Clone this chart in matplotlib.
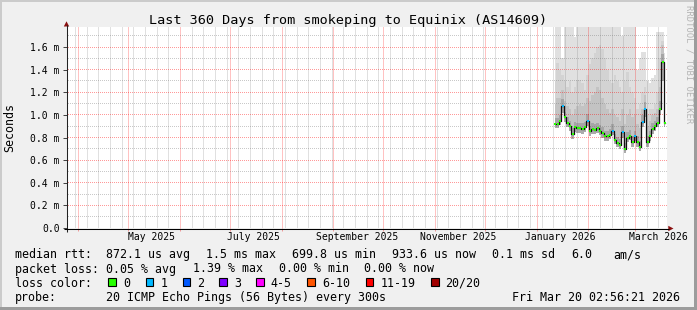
import matplotlib
matplotlib.use('Agg')
import matplotlib.pyplot as plt
import matplotlib.dates as mdates
from matplotlib.patches import Rectangle, Polygon
from matplotlib.ticker import FixedLocator, FuncFormatter
import numpy as np
import pandas as pd

W, H, DPI = 697, 310, 100
MONO = 'DejaVu Sans Mono'

# ---------------- data ----------------
range_start = pd.Timestamp('2025-03-25 02:56:21')
range_end = pd.Timestamp('2026-03-20 02:56:21')
sample_times = pd.date_range('2026-01-12 00:00', periods=45, freq='36h')

median_ms = [0.92, 0.92, 0.95, 1.08, 0.98, 0.93, 0.90, 0.83, 0.89, 0.88,
             0.88, 0.875, 0.89, 0.95, 0.855, 0.875, 0.87, 0.88, 0.86, 0.84,
             0.81, 0.81, 0.825, 0.86, 0.78, 0.755, 0.735, 0.845, 0.70, 0.80,
             0.815, 0.76, 0.81, 0.76, 0.72, 0.94, 1.05, 0.76, 0.81, 0.875,
             0.90, 0.93, 1.05, 1.47, 0.93]
loss_pings = [0, 0, 0, 1, 0, 0, 0, 0, 0, 0,
              0, 0, 0, 1, 0, 0, 0, 0, 0, 0,
              0, 0, 0, 1, 0, 0, 0, 1, 0, 0,
              0, 0, 1, 0, 0, 1, 1, 0, 0, 0,
              0, 0, 0, 0, 0]
smoke_min_ms = [0.88, 0.88, 0.91, 1.02, 0.94, 0.89, 0.86, 0.79, 0.85, 0.84,
                0.84, 0.835, 0.85, 0.90, 0.815, 0.835, 0.83, 0.84, 0.82, 0.80,
                0.77, 0.77, 0.785, 0.82, 0.74, 0.715, 0.695, 0.80, 0.665, 0.76,
                0.775, 0.72, 0.77, 0.72, 0.68, 0.89, 0.98, 0.72, 0.77, 0.835,
                0.86, 0.89, 1.00, 1.30, 0.89]
smoke_inner_ms = [0.97, 0.97, 1.00, 1.14, 1.03, 0.98, 0.95, 0.88, 0.94, 0.93,
                  0.93, 0.925, 0.94, 1.01, 0.905, 0.925, 0.92, 0.93, 0.91, 0.89,
                  0.86, 0.86, 0.875, 0.92, 0.83, 0.805, 0.785, 0.90, 0.75, 0.85,
                  0.865, 0.81, 0.86, 0.81, 0.77, 1.00, 1.11, 0.81, 0.86, 0.925,
                  0.95, 0.98, 1.12, 1.54, 0.98]
smoke_mid_ms = [1.10, 1.15, 1.15, 1.22, 1.12, 1.08, 1.05, 1.00, 1.05, 1.08,
                1.10, 1.08, 1.10, 1.15, 1.12, 1.18, 1.20, 1.25, 1.22, 1.15,
                1.10, 1.05, 1.02, 1.05, 1.00, 0.98, 0.95, 1.05, 0.92, 1.00,
                1.05, 0.98, 1.00, 0.92, 0.88, 1.05, 1.18, 0.90, 0.95, 1.00,
                1.02, 1.05, 1.25, 1.62, 1.05]
smoke_outer_ms = [1.30, 1.46, 1.40, 1.35, 1.30, 1.25, 1.30, 1.20, 1.25, 1.31,
                  1.31, 1.28, 1.22, 1.35, 1.45, 1.50, 1.55, 1.60, 1.62, 1.58,
                  1.50, 1.40, 1.30, 1.28, 1.35, 1.30, 1.25, 1.20, 1.30, 1.38,
                  1.25, 1.20, 1.15, 1.05, 1.10, 1.20, 1.25, 1.00, 1.05, 1.05,
                  1.10, 1.20, 1.50, 1.65, 1.10]
smoke_max_ms = [1.90, 1.90, 1.90, 1.50, 1.90, 1.90, 1.90, 1.90, 1.69, 1.90,
                1.90, 1.90, 1.90, 1.90, 1.90, 1.90, 1.90, 1.90, 1.90, 1.90,
                1.90, 1.90, 1.90, 1.90, 1.90, 1.90, 1.90, 1.70, 1.90, 1.90,
                1.90, 1.90, 1.90, 1.40, 1.50, 1.56, 1.56, 1.30, 1.28, 1.33,
                1.35, 1.73, 1.73, 1.73, 1.55]

label_dates = pd.to_datetime(['2025-05-15', '2025-07-15', '2025-09-15',
                              '2025-11-15', '2026-01-15', '2026-03-15'])
label_texts = ['May 2025', 'July 2025', 'September 2025',
               'November 2025', 'January 2026', 'March 2026']
y_major = [0.0, 0.2, 0.4, 0.6, 0.8, 1.0, 1.2, 1.4, 1.6]
y_minor = [0.1, 0.3, 0.5, 0.7, 0.9, 1.1, 1.3, 1.5, 1.7]

loss_labels = ['0', '1', '2', '3', '4-5', '6-10', '11-19', '20/20']
loss_colors = ['#26ff00', '#00b8ff', '#0059ff', '#7e00ff',
               '#ff00ff', '#ff5500', '#ff0000', '#a10000']

title = 'Last 360 Days from smokeping to Equinix (AS14609)'
row_rtt = ['median rtt:', '872.1 us avg', '1.5 ms max', '699.8 us min',
           '933.6 us now', '0.1 ms sd', '6.0', 'am/s']
row_loss = ['packet loss:', '0.05 % avg', '1.39 % max', '0.00 % min', '0.00 % now']
probe_texts = ['probe:', '20 ICMP Echo Pings (56 Bytes) every 300s',
               'Fri Mar 20 02:56:21 2026']


def loss_bucket(n):
    if n <= 3:
        return n
    if n <= 5:
        return 4
    if n <= 10:
        return 5
    if n <= 19:
        return 6
    return 7


# ---------------- figure ----------------
fig = plt.figure(figsize=(W / DPI, H / DPI), dpi=DPI, facecolor='#F0F0F0')


def px_rect(l, t, r, b):
    return [l / W, 1 - b / H, (r - l) / W, (b - t) / H]


PL, PT, PR, PB = 67, 27, 667, 228
PX_PER_MS = 113.1
x0n = float(mdates.date2num(range_start.to_pydatetime()))
x1n = float(mdates.date2num(range_end.to_pydatetime()))
ymax = (PB - PT) / PX_PER_MS

ax = fig.add_axes(px_rect(PL, PT, PR, PB), zorder=0)
ax.set_facecolor('white')
for s in ax.spines.values():
    s.set_visible(False)

# smoke
st = 'mid'
ax.fill_between(sample_times, smoke_outer_ms, smoke_max_ms, step=st,
                color='#e0e0e0', lw=0, zorder=1)
ax.fill_between(sample_times, smoke_mid_ms, smoke_outer_ms, step=st,
                color='#d3d3d3', lw=0, zorder=1)
ax.fill_between(sample_times, smoke_inner_ms, smoke_mid_ms, step=st,
                color='#c3c3c3', lw=0, zorder=1)
ax.fill_between(sample_times, median_ms, smoke_inner_ms, step=st,
                color='#a6a6a6', lw=0, zorder=1)
ax.fill_between(sample_times, smoke_min_ms, median_ms, step=st,
                color='#ababab', lw=0, zorder=1)

# vertical grid: weekly (Sunday) minor, monthly major
month_starts = pd.date_range(range_start.normalize(), range_end, freq='MS')
sundays = pd.date_range(range_start.normalize(), range_end, freq='W-SUN')
month_num = [float(mdates.date2num(d.to_pydatetime())) for d in month_starts]
sunday_num = [float(mdates.date2num(d.to_pydatetime())) for d in sundays if d.day != 1]
for xn in sunday_num:
    ax.axvline(xn, color=(0.45, 0.45, 0.45, 0.22), lw=0.72, snap=True, zorder=3)
for xn in month_num:
    ax.axvline(xn, color=(1.0, 0.0, 0.0, 0.24), lw=0.72, snap=True, zorder=3)

# ticks
ax.set_xticks([float(mdates.date2num(d.to_pydatetime())) for d in label_dates])
ax.set_xticklabels(label_texts)
ax.xaxis.set_minor_locator(FixedLocator(month_num))
ax.tick_params(axis='x', which='major', length=0, pad=3.0, labelsize=7)
ax.tick_params(axis='x', which='minor', length=2.2, width=0.72,
               color='#f09a9a', direction='out')
ax.set_yticks(y_major)
ax.yaxis.set_major_formatter(FuncFormatter(
    lambda v, p: '0.0' if abs(v) < 1e-9 else f'{v:.1f} m'))
ax.tick_params(axis='y', which='major', length=2.6, width=0.72, color='#444444',
               direction='out', pad=2.6, labelsize=7)
ax.tick_params(axis='y', which='minor', length=0)
for lab in ax.get_xticklabels() + ax.get_yticklabels():
    lab.set_family(MONO)
ax.set_xlim(x0n, x1n)
ax.set_ylim(0, ymax)

# horizontal dotted grid: pixel-exact RGBA layer over the smoke
nw, nh = PR - PL, PB - PT
grid = np.zeros((nh, nw, 4), dtype=float)
minor_rgba = np.array([0.45, 0.45, 0.45, 0.38])
major_rgba = np.array([1.0, 0.0, 0.0, 0.40])


def row_of(v):
    return nh - 1 - int(np.floor(v / ymax * nh))


for y in y_minor:
    r = row_of(y)
    if 0 <= r < nh:
        grid[r, 1::2, :] = minor_rgba
for y in y_major[1:]:
    r = row_of(y)
    if 0 <= r < nh:
        grid[r, 1::2, :] = major_rgba
fig.figimage(grid, xo=PL, yo=H - PB, origin='upper', zorder=1)

# median line + loss colour markers on a transparent axes above the grid
axm = fig.add_axes(px_rect(PL, PT, PR, PB), zorder=2)
axm.patch.set_visible(False)
axm.axis('off')
axm.plot(sample_times, median_ms, drawstyle='steps-mid', color='#111111',
         lw=0.9, zorder=5)
buckets = np.array([loss_bucket(n) for n in loss_pings])
med = np.array(median_ms)
for b in np.unique(buckets):
    m = buckets == b
    axm.plot(sample_times[m], med[m], ls='none', marker='s', ms=2.0, mew=0,
             color=loss_colors[b], zorder=6)
axm.set_xlim(x0n, x1n)
axm.set_ylim(0, ymax)

# ---------------- overlay (pixel coordinates) ----------------
ov = fig.add_axes([0, 0, 1, 1], zorder=10)
ov.set_xlim(0, W)
ov.set_ylim(H, 0)
ov.axis('off')

# frame shading
ov.add_patch(Rectangle((0, 0), W, 2, color='#CBCBCB', lw=0))
ov.add_patch(Rectangle((0, 0), 2, H, color='#CBCBCB', lw=0))
ov.add_patch(Rectangle((0, H - 3), W, 3, color='#9C9C9C', lw=0))
ov.add_patch(Rectangle((W - 3, 0), 3, H, color='#9C9C9C', lw=0))

# axes lines and arrows
ov.plot([66.5, 66.5], [231.5, 25], color='#222222', lw=0.75, solid_capstyle='butt')
ov.plot([63.5, 669], [228.5, 228.5], color='#000000', lw=0.75, solid_capstyle='butt')
ov.add_patch(Polygon([(63.8, 26.5), (69.2, 26.5), (66.5, 21.3)], closed=True,
                     color='#8B1010', lw=0))
ov.add_patch(Polygon([(668.3, 225.8), (668.3, 231.2), (673.5, 228.5)], closed=True,
                     color='#8B1010', lw=0))

# titles
ov.text(348.5, 24, title, ha='center', va='baseline', fontsize=9.7,
        family=MONO, color='black')
ov.text(10, 127.5, 'Seconds', ha='center', va='center', rotation=90,
        fontsize=8.4, family=MONO, color='black')
ov.text(688.5, 5, 'RRDTOOL / TOBI OETIKER', ha='center', va='top', rotation=-90,
        fontsize=6.4, family=MONO, color='#b4b4b4')

# legend
LF = 8.4
rtt_x = [15.3, 106.5, 206.5, 292.5, 392.5, 492.5, 571.0, 613.5]
for x, t in zip(rtt_x, row_rtt):
    ov.text(x, 258.4, t, ha='left', va='baseline', fontsize=LF, family=MONO)
loss_x = [15.3, 106.5, 193.0, 279.0, 364.5]
for x, t in zip(loss_x, row_loss):
    ov.text(x, 272.5, t, ha='left', va='baseline', fontsize=LF, family=MONO)
ov.text(15.3, 286.6, 'loss color:', ha='left', va='baseline', fontsize=LF, family=MONO)
box_x = [108.3, 145.7, 182.7, 219.3, 256.3, 307.3, 365.7, 431.0]
for x, lab, c in zip(box_x, loss_labels, loss_colors):
    ov.add_patch(Rectangle((x, 277.5), 7.5, 8, facecolor=c, edgecolor='black', lw=0.8))
    ov.text(x + 14.5, 286.6, lab, ha='left', va='baseline', fontsize=LF, family=MONO)
probe_x = [15.3, 106.5, 512.5]
for x, t in zip(probe_x, probe_texts):
    ov.text(x, 300.6, t, ha='left', va='baseline', fontsize=LF, family=MONO)

fig.savefig('out.png', dpi=DPI, facecolor=fig.get_facecolor())
